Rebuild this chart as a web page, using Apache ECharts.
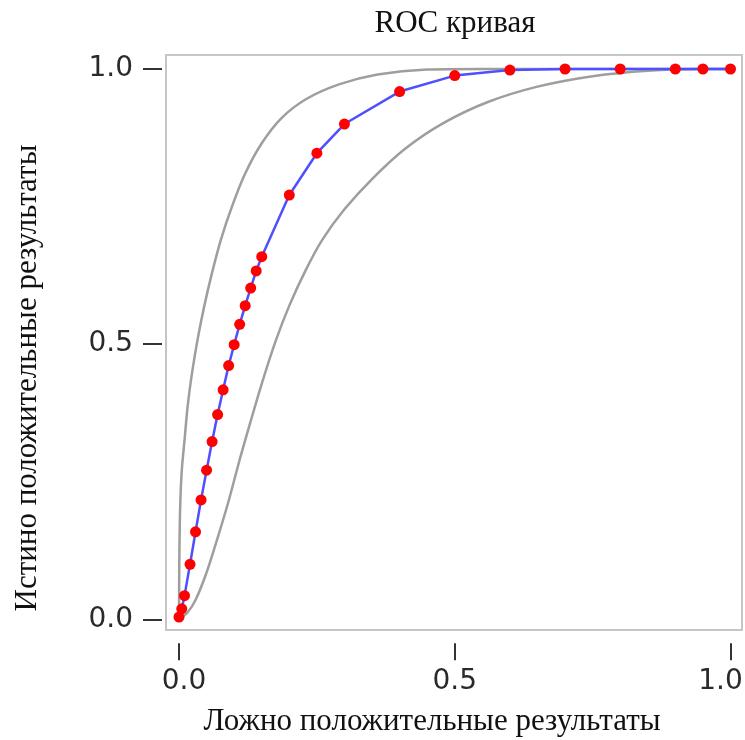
<!DOCTYPE html>
<html>
<head>
<meta charset="utf-8">
<script src="https://cdn.jsdelivr.net/npm/echarts@6/dist/echarts.min.js"></script>
<style>html,body{margin:0;padding:0;background:#fff}#c{width:745px;height:740px}</style>
</head>
<body>
<div id="c"></div>
<script>
const chartTitle = 'ROC кривая';
const xTitle = 'Ложно положительные результаты';
const yTitle = 'Истино положительные результаты';
const tickValues = [0, 0.5, 1.0];

const fpr = [0, 0.005, 0.01, 0.02, 0.03, 0.04, 0.05, 0.06, 0.07, 0.08, 0.09, 0.10, 0.11, 0.12, 0.13, 0.14, 0.15,
             0.2, 0.25, 0.3, 0.4, 0.5, 0.6, 0.7, 0.8, 0.9, 0.95, 1.0];
const tpr = [0.004, 0.019, 0.043, 0.100, 0.159, 0.217, 0.271, 0.323, 0.372, 0.417, 0.461, 0.499, 0.536, 0.570, 0.602, 0.633, 0.659,
             0.771, 0.847, 0.900, 0.959, 0.988, 0.998, 1.0, 1.0, 1.0, 1.0, 1.0];

const upperX = [0, 0.0005, 0.002, 0.005, 0.010, 0.016, 0.024, 0.034, 0.046, 0.060, 0.076, 0.096, 0.120, 0.150, 0.185, 0.230, 0.290, 0.360, 0.450, 0.550, 1.0];
const upperY = [0, 0.10, 0.20, 0.27, 0.325, 0.39, 0.45, 0.51, 0.57, 0.63, 0.69, 0.75, 0.81, 0.865, 0.91, 0.945, 0.972, 0.99, 0.999, 1.0, 1.0];

const lowerX = [0, 0.015, 0.03, 0.05, 0.07, 0.09, 0.11, 0.13, 0.15, 0.175, 0.2, 0.23, 0.26, 0.3, 0.35, 0.41, 0.48, 0.56, 0.65, 0.75, 0.85, 0.95, 1.0];
const lowerY = [0, 0.012, 0.035, 0.085, 0.148, 0.215, 0.29, 0.36, 0.428, 0.505, 0.57, 0.635, 0.69, 0.745, 0.80, 0.855, 0.902, 0.94, 0.968, 0.987, 0.997, 1.0, 1.0];

const zip = (a, b) => a.map((v, i) => [v, b[i]]);

const chart = echarts.init(document.getElementById('c'), null, {renderer: 'canvas'});
const labelFont = {fontFamily: 'DejaVu Sans', fontSize: 28, color: '#2a2a2a'};
const serif = '"Liberation Serif", "Times New Roman", serif';
const fmtY = v => tickValues.indexOf(v) >= 0 ? v.toFixed(1) : '';
const fmtX = v => {
  if (tickValues.indexOf(v) < 0) return '';
  if (v === tickValues[0]) return '{l|' + v.toFixed(1) + '}';
  if (v === tickValues[tickValues.length - 1]) return '{r|' + v.toFixed(1) + '}';
  return v.toFixed(1);
};

chart.setOption({
  animation: false,
  backgroundColor: '#fff',
  grid: [
    {left: 179, right: 14.5, top: 69, bottom: 120.7, show: false, containLabel: false, outerBoundsMode: 'none'},
    {left: 166, right: 3, top: 55, bottom: 110, show: true, borderColor: '#c6c6c6', borderWidth: 2,
     backgroundColor: 'transparent', containLabel: false, outerBoundsMode: 'none'}
  ],
  xAxis: [
    {gridIndex: 0, type: 'value', min: 0, max: 1, interval: 0.5, offset: 24,
     axisLine: {show: true, onZero: false, lineStyle: {color: 'rgba(0,0,0,0)', width: 0}}, splitLine: {show: false},
     axisTick: {show: true, length: 17, lineStyle: {color: '#333', width: 2}},
     axisLabel: Object.assign({margin: 24, formatter: fmtX,
       rich: {l: Object.assign({padding: [0, 0, 0, 10]}, labelFont), r: Object.assign({padding: [0, 20, 0, 0]}, labelFont)}}, labelFont)},
    {gridIndex: 1, type: 'value', min: 0, max: 1, show: false}
  ],
  yAxis: [
    {gridIndex: 0, type: 'value', min: 0, max: 1, interval: 0.5, offset: 17,
     axisLine: {show: true, onZero: false, lineStyle: {color: 'rgba(0,0,0,0)', width: 0}}, splitLine: {show: false},
     axisTick: {show: true, length: 19, lineStyle: {color: '#333', width: 2}},
     axisLabel: Object.assign({margin: 29, formatter: fmtY}, labelFont)},
    {gridIndex: 1, type: 'value', min: 0, max: 1, show: false}
  ],
  graphic: [
    {type: 'text', x: 455, y: 24, style: {text: chartTitle, font: '31px ' + serif, fill: '#111', textAlign: 'center', textVerticalAlign: 'middle'}},
    {type: 'text', x: 432, y: 722, style: {text: xTitle, font: '31px ' + serif, fill: '#111', textAlign: 'center', textVerticalAlign: 'middle'}},
    {type: 'text', x: 28, y: 378, rotation: Math.PI / 2, style: {text: yTitle, font: '31px ' + serif, fill: '#111', textAlign: 'center', textVerticalAlign: 'middle'}}
  ],
  series: [
    {type: 'line', xAxisIndex: 0, yAxisIndex: 0, data: zip(upperX, upperY), smooth: 0.3, showSymbol: false, clip: false,
     lineStyle: {color: '#9e9e9e', width: 2.5}},
    {type: 'line', xAxisIndex: 0, yAxisIndex: 0, data: zip(lowerX, lowerY), smooth: 0.3, showSymbol: false, clip: false,
     lineStyle: {color: '#9e9e9e', width: 2.5}},
    {type: 'line', xAxisIndex: 0, yAxisIndex: 0, data: zip(fpr, tpr), clip: false,
     symbol: 'circle', symbolSize: 11, showAllSymbol: true,
     lineStyle: {color: '#4f4fff', width: 2.5},
     itemStyle: {color: '#ff0000', borderWidth: 0}}
  ]
});
</script>
</body>
</html>
